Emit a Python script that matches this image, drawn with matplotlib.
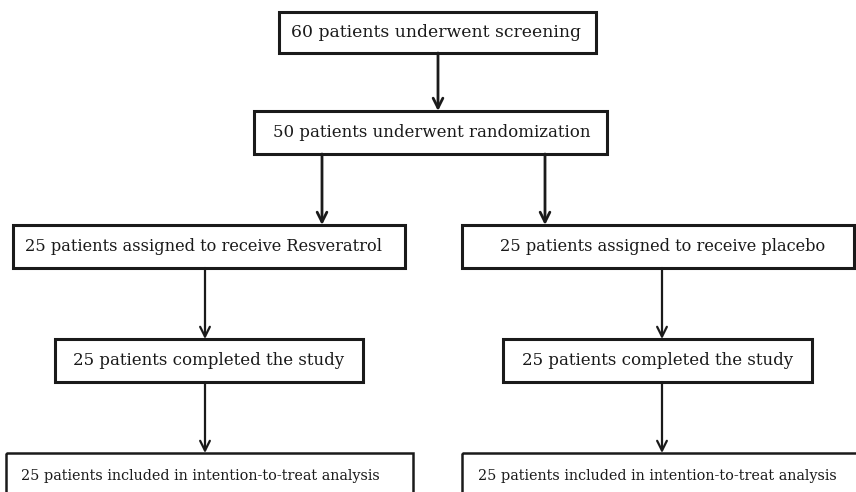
import matplotlib
matplotlib.use('Agg')
import matplotlib.pyplot as plt
from matplotlib.patches import Rectangle

# box texts, top to bottom
screening = "60 patients underwent screening"
randomized = "50 patients underwent randomization"
assigned = ["25 patients assigned to receive Resveratrol",
            "25 patients assigned to receive placebo"]
completed = ["25 patients completed the study",
             "25 patients completed the study"]
itt = ["25 patients included in intention-to-treat analysis",
       "25 patients included in intention-to-treat analysis"]

# layout in pixel coords (x0, x1, y0, y1)
BOX_SCREEN = (279, 596, 12, 53)
BOX_RAND = (254, 607, 111, 154)
BOX_ASSIGN = [(13, 405, 225, 268), (462, 854, 225, 268)]
BOX_DONE = [(55, 363, 339, 382), (503, 812, 339, 382)]
BOX_ITT = [(6, 413, 453, 500), (462, 860, 453, 500)]

fig = plt.figure(figsize=(8.56, 4.92), dpi=100)
ax = fig.add_axes([0, 0, 1, 1])
ax.set_xlim(0, 856)
ax.set_ylim(492, 0)
ax.axis('off')

FONT = 'DejaVu Serif'
INK = '#1a1a1a'


def box(b, text, size, tx=None, ty=None, lw=2.2):
    x0, x1, y0, y1 = b
    ax.add_patch(Rectangle((x0, y0), x1 - x0, y1 - y0, fill=False,
                           edgecolor=INK, linewidth=lw))
    if tx is None:
        tx = (x0 + x1) / 2
    if ty is None:
        ty = (y0 + y1) / 2
    ax.text(tx, ty, text, ha='center', va='center',
            fontsize=size, family=FONT, color=INK)


def arrow(x, y0, y1, lw=1.6):
    ax.annotate('', xy=(x, y1), xytext=(x, y0),
                arrowprops=dict(arrowstyle='->,head_length=0.7,head_width=0.35',
                                color=INK, lw=lw, shrinkA=0, shrinkB=0))


box(BOX_SCREEN, screening, 12.4, tx=436)
box(BOX_RAND, randomized, 12, tx=432)
arrow(438, 53, 111, lw=2.0)
arrow(322, 154, 225, lw=2.0)
arrow(545, 154, 225, lw=2.0)

assign_x = [204, 663]
itt_x = [200, 657]
for i in range(2):
    box(BOX_ASSIGN[i], assigned[i], 11.7, tx=assign_x[i])
    box(BOX_DONE[i], completed[i], 12)
    # bottom boxes run off the page, so text sits above their centre
    box(BOX_ITT[i], itt[i], 10.35, tx=itt_x[i], ty=476, lw=1.8)

arrow(205, 268, 339)
arrow(662, 268, 339)
arrow(205, 382, 453)
arrow(662, 382, 453)

fig.savefig('out.png', dpi=100, facecolor='white')
